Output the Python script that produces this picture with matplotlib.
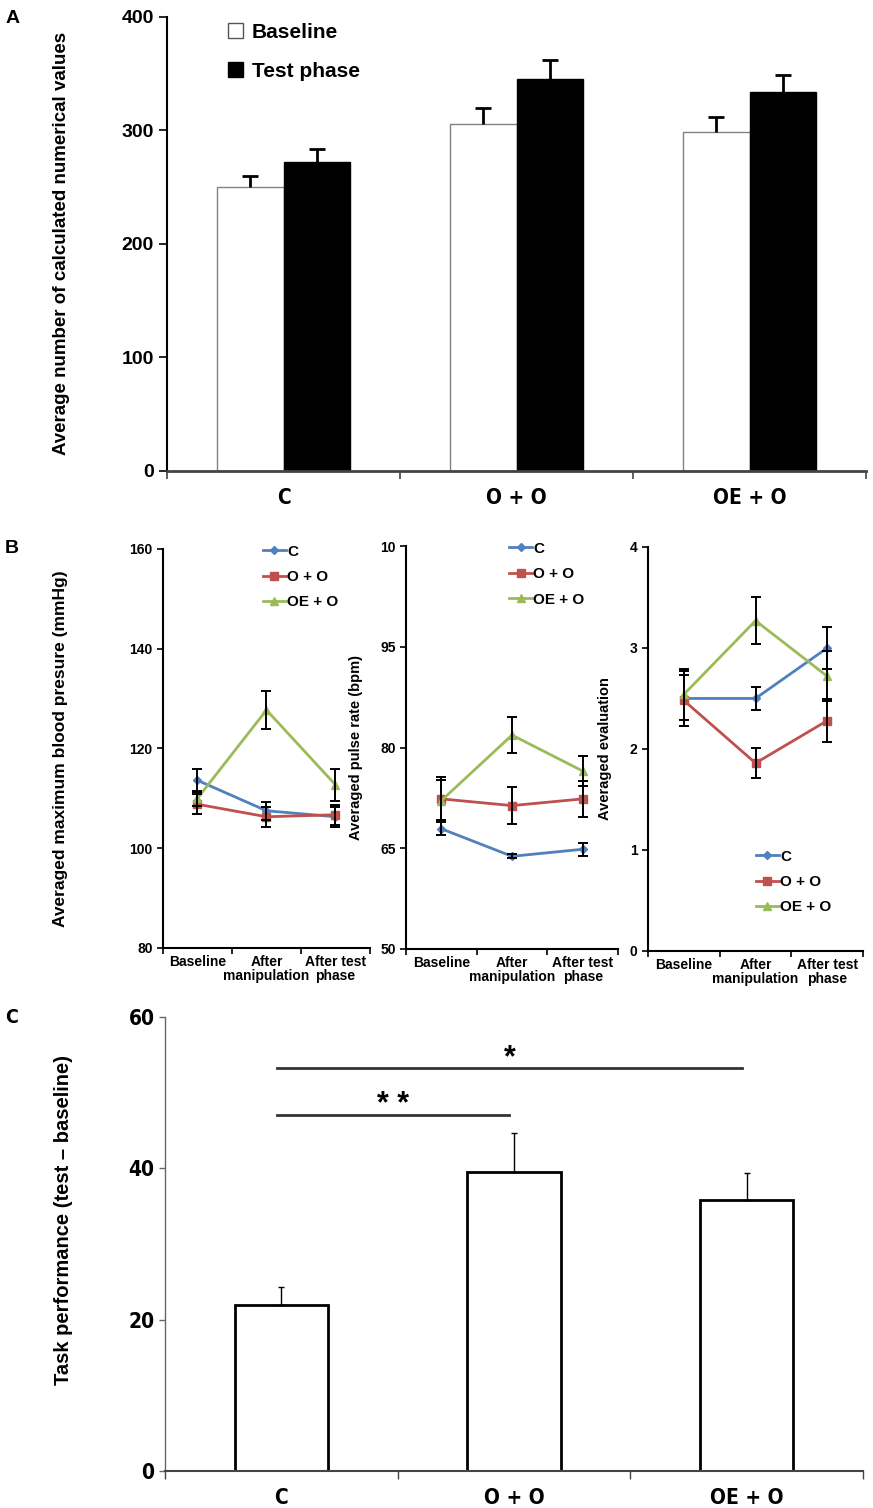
import matplotlib
matplotlib.use("Agg")
import matplotlib.pyplot as plt
from matplotlib.patches import Patch

plt.rcParams['font.family'] = ['Liberation Sans', 'DejaVu Sans']
plt.rcParams['font.weight'] = 'bold'
NARROW = dict(family=['Liberation Sans Narrow', 'DejaVu Sans'], fontstretch='condensed')

# ---- panel A data
groups = ['C', 'O + O', 'OE + O']
base_vals = [250, 306, 299]
base_err = [10, 14, 13]
test_vals = [272, 345, 334]
test_err = [12, 17, 15]

# ---- panel B data
phases = ['Baseline', 'After\nmanipulation', 'After test\nphase']
bp_c = [113.6, 107.5, 106.3]
bp_c_err = [2.3, 1.8, 2.0]
bp_oo = [108.8, 106.3, 106.7]
bp_oo_err = [2.0, 2.0, 2.0]
bp_oeo = [110.0, 127.7, 112.7]
bp_oeo_err = [1.5, 3.9, 3.2]

pr_c = [67.9, 63.8, 64.85]
pr_c_err = [1.0, 0.3, 1.0]
pr_oo = [72.35, 71.35, 72.35]
pr_oo_err = [3.2, 2.8, 2.7]
pr_oeo = [72.1, 81.85, 76.5]
pr_oeo_err = [3.0, 2.7, 2.3]

ev_c = [2.5, 2.5, 3.0]
ev_c_err = [0.27, 0.11, 0.21]
ev_oo = [2.48, 1.86, 2.28]
ev_oo_err = [0.25, 0.15, 0.21]
ev_oeo = [2.54, 3.27, 2.72]
ev_oeo_err = [0.25, 0.23, 0.25]

# ---- panel C data
diff_vals = [22.0, 39.5, 35.85]
diff_err = [2.3, 5.15, 3.55]
sig_pairs = [(0, 2, 53.2, '*'), (0, 1, 47.0, '* *')]

blue = '#4F81BD'
red = '#C0504D'
green = '#9BBB59'

fig = plt.figure(figsize=(8.73, 15.08), dpi=100)

x = list(range(len(groups)))
bounds = [-0.5, 0.5, 1.5, 2.5]

# ================= A
axA = fig.add_axes([0.1913, 0.6877, 0.8007, 0.3011])
w = 0.285
axA.bar([i - w for i in x], base_vals, w, align='edge', color='white',
        edgecolor='#808080', linewidth=1)
axA.bar(x, test_vals, w, align='edge', color='black', edgecolor='black', linewidth=1)
for i in x:
    bx = i - w / 2
    axA.vlines(bx, base_vals[i], base_vals[i] + base_err[i], color='black', lw=2)
    axA.hlines(base_vals[i] + base_err[i], bx - 0.035, bx + 0.035, color='black', lw=2)
    tx = i + w / 2
    axA.vlines(tx, test_vals[i], test_vals[i] + test_err[i], color='black', lw=2)
    axA.hlines(test_vals[i] + test_err[i], tx - 0.035, tx + 0.035, color='black', lw=2)
axA.set_xlim(-0.5, 2.5)
axA.set_ylim(0, 400)
axA.set_yticks([0, 100, 200, 300, 400])
axA.tick_params(axis='y', labelsize=14, length=6, width=1.2, direction='out')
axA.set_xticks(x)
axA.set_xticklabels(groups, fontsize=15, fontweight='bold', **NARROW)
axA.tick_params(axis='x', which='major', length=0, pad=12)
axA.set_xticks(bounds, minor=True)
axA.tick_params(axis='x', which='minor', length=6, width=1.2, direction='out', color='#444')
for s in ['top', 'right']:
    axA.spines[s].set_visible(False)
axA.spines['left'].set_linewidth(1.5)
axA.spines['bottom'].set_linewidth(2)
axA.spines['bottom'].set_color('#444')
axA.set_ylabel('Average number of calculated numerical values', fontsize=13.5, fontweight='bold')
axA.yaxis.set_label_coords(-0.139, 0.5)
axA.legend(handles=[Patch(facecolor='white', edgecolor='#555', lw=1),
                    Patch(facecolor='black', edgecolor='black')],
           labels=['Baseline', 'Test phase'], loc='upper left',
           bbox_to_anchor=(0.072, 1.01), frameon=False,
           handlelength=0.75, handleheight=0.75, handletextpad=0.4,
           labelspacing=0.95, borderpad=0, prop={'weight': 'bold', 'size': 15})

# ================= B
def line_panel(rect, c, ce, oo, ooe, oeo, oeoe, ylim, yticks, ylabel, ylab_x, ylab_size, leg_anchor, yticklabels=None):
    ax = fig.add_axes(rect)
    px = list(range(len(phases)))
    ax.plot(px, c, color=blue, lw=2, marker='D', ms=4, label='C', zorder=2)
    ax.plot(px, oo, color=red, lw=2, marker='s', ms=6, label='O + O', zorder=2)
    ax.plot(px, oeo, color=green, lw=2, marker='^', ms=6, label='OE + O', zorder=2)
    for vals, errs in [(c, ce), (oo, ooe), (oeo, oeoe)]:
        ax.errorbar(px, vals, yerr=errs, fmt='none', ecolor='black', elinewidth=1.4,
                    capsize=3.5, capthick=1.4, zorder=3)
    ax.set_xlim(-0.5, 2.5)
    ax.set_ylim(*ylim)
    ax.set_yticks(yticks)
    if yticklabels is not None:
        ax.set_yticklabels(yticklabels)
    ax.tick_params(axis='y', labelsize=10, length=4, width=1.2, direction='out')
    ax.set_xticks(px)
    ax.set_xticklabels(phases, fontsize=10, fontweight='bold', linespacing=1.0)
    ax.tick_params(axis='x', which='major', length=0, pad=5)
    ax.set_xticks(bounds, minor=True)
    ax.tick_params(axis='x', which='minor', length=4, width=1.2, direction='out')
    for s in ['top', 'right']:
        ax.spines[s].set_visible(False)
    ax.spines['left'].set_linewidth(1.5)
    ax.spines['bottom'].set_linewidth(1.5)
    ax.set_ylabel(ylabel, fontsize=ylab_size, fontweight='bold')
    ax.yaxis.set_label_coords(ylab_x, 0.5)
    ax.legend(loc='upper left', bbox_to_anchor=leg_anchor, frameon=False,
              handlelength=1.5, handletextpad=0.1, labelspacing=0.75, borderpad=0,
              prop={'weight': 'bold', 'size': 11})
    return ax


line_panel([0.1867, 0.3714, 0.2371, 0.2646], bp_c, bp_c_err, bp_oo, bp_oo_err, bp_oeo, bp_oeo_err,
           (80, 160), [80, 100, 120, 140, 160], 'Averaged maximum blood presure (mmHg)',
           -0.459, 12.5, (0.445, 1.03))
line_panel([0.4651, 0.3707, 0.2428, 0.2672], pr_c, pr_c_err, pr_oo, pr_oo_err, pr_oeo, pr_oeo_err,
           (50, 110), [50, 65, 80, 95, 110], 'Averaged pulse rate (bpm)',
           -0.203, 10.5, (0.45, 1.03), yticklabels=['50', '65', '80', '95', '10'])
line_panel([0.7423, 0.3694, 0.2463, 0.2679], ev_c, ev_c_err, ev_oo, ev_oo_err, ev_oeo, ev_oeo_err,
           (0, 4), [0, 1, 2, 3, 4], 'Averaged evaluation',
           -0.167, 10.5, (0.465, 0.27))

# ================= C
axC = fig.add_axes([0.189, 0.0245, 0.7995, 0.3011])
axC.bar(x, diff_vals, 0.4, color='white', edgecolor='black', linewidth=2)
axC.errorbar(x, diff_vals, yerr=[[0] * 3, diff_err], fmt='none', ecolor='black',
             elinewidth=1, capsize=2.5, capthick=1)
for a, b, yy, star in sig_pairs:
    axC.plot([a - 0.02, b - 0.02], [yy, yy], color='#333', lw=2)
    axC.text((a + b) / 2 - 0.02, yy - 0.6, star, ha='center', va='bottom',
             fontsize=22, fontweight='bold')
axC.set_xlim(-0.5, 2.5)
axC.set_ylim(0, 60)
axC.set_yticks([0, 20, 40, 60])
axC.set_yticklabels(['0', '20', '40', '60'], fontsize=15, fontweight='bold', **NARROW)
axC.tick_params(axis='y', length=4, width=1, direction='out', color='#666')
axC.set_xticks(x)
axC.set_xticklabels(groups, fontsize=15, fontweight='bold', **NARROW)
axC.tick_params(axis='x', which='major', length=0, pad=12)
axC.set_xticks(bounds, minor=True)
axC.tick_params(axis='x', which='minor', length=6, width=1, direction='out', color='#444')
for s in ['top', 'right']:
    axC.spines[s].set_visible(False)
axC.spines['left'].set_linewidth(1)
axC.spines['left'].set_color('#666')
axC.spines['bottom'].set_linewidth(1.5)
axC.spines['bottom'].set_color('#444')
axC.set_ylabel('Task performance (test \u2013 baseline)', fontsize=14.5, fontweight='bold')
axC.yaxis.set_label_coords(-0.132, 0.553)

# panel letters
fig.text(0.006, 0.988, 'A', fontsize=14, fontweight='bold', va='center')
fig.text(0.006, 0.6366, 'B', fontsize=14, fontweight='bold', va='center')
fig.text(0.006, 0.325, 'C', fontsize=14, fontweight='bold', va='center', **NARROW)

fig.savefig('out.png', dpi=100)
